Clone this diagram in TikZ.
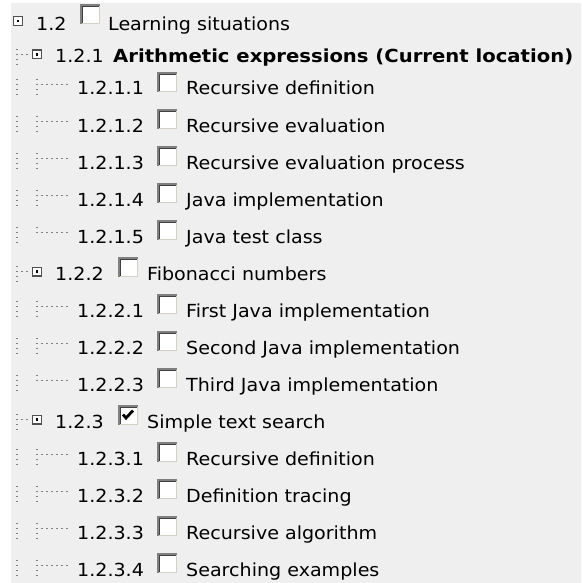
\documentclass[tikz,border=0pt]{standalone}
\usepackage{fontspec}
\usepackage{graphicx}
\setmainfont{DejaVu Sans}
\definecolor{panel}{HTML}{EFEFEF}
\definecolor{dotc}{HTML}{808080}
\definecolor{cbouter}{HTML}{808080}
\definecolor{cbinner}{HTML}{404040}
\definecolor{cblight}{HTML}{D4D0C8}
\definecolor{expc}{HTML}{505050}

% one tree-line dot, centred on (x,y)
\newcommand\tdot[2]{\fill[dotc] ({#1-0.9},{#2-0.9}) rectangle ({#1+0.9},{#2+0.9});}
% the tree font runs a little wider than DejaVu Sans
\newcommand\wide[1]{\scalebox{1.06}[1]{#1}}

\begin{document}
\begin{tikzpicture}[x=1pt,y=-1pt,
  txt/.style={anchor=base west, inner sep=0pt, font=\fontsize{18}{21}\selectfont},
  cbox/.pic={
    \fill[white] (-10,-10) rectangle (10,10);
    \draw[cblight, line width=1.4] (-9.3,9.3) -- (9.3,9.3) -- (9.3,-9.3);
    \draw[cbouter, line width=1.6] (-9.2,10) -- (-9.2,-9.2) -- (10,-9.2);
    \draw[cbinner, line width=1.4] (-7.7,8.6) -- (-7.7,-7.7) -- (8.6,-7.7);
  },
  tick/.pic={
    \draw[black, line width=2.8, line join=miter] (-5,-0.5) -- (-2,3) -- (5,-4.5);
  },
  expander/.pic={
    \fill[white] (-4.4,-4.4) rectangle (4.4,4.4);
    \draw[expc, line width=1.2] (-4.4,-4.4) rectangle (4.4,4.4);
    \fill[black] (-1.2,-1.2) rectangle (1.2,1.2);
  }]
\useasboundingbox (0,0) rectangle (581,583);
\fill[white] (0,0) rectangle (581,583);
\fill[panel] (11,3) rectangle (581,583);

% top level entry
\pic at (17.7,21) {expander};
\node[txt] (n12) at (36,30.5) {\wide{1.2}};
\pic at (90,14) {cbox};
\node[txt] (t12) at (108,30.5) {\wide{Learning situations}};

% second level entries: name / text centre / number / label / checked
\foreach \nm/\c/\num/\txt/\chk in {
    s1/56.5/1.2.1/{}/2,
    s2/273.5/1.2.2/Fibonacci numbers/0,
    s3/421.5/1.2.3/Simple text search/1}
{
  \foreach \dy in {-5,0,5,10} \tdot{16.7}{\c-2+\dy};
  \foreach \dx in {21.7,26.7} \tdot{\dx}{\c-2};
  \pic at (37,\c-2) {expander};
  \node[txt] (n-\nm) at (55,\c+6.5) {\wide{\num}};
  \ifnum\chk<2
    \pic at (128,\c-6.5) {cbox};
    \node[txt] (t-\nm) at (147,\c+6.5) {\wide{\txt}};
  \fi
  \ifnum\chk=1
    \pic at (128,\c-6.5) {tick};
  \fi
}
\node[txt] (t-s1) at (113,63) {\scalebox{1.09}[1]{\bfseries Arithmetic expressions (Current location)}};

% third level entries: name / text centre / number / label / last child
\foreach \nm/\c/\num/\txt/\last in {
    a1/88.5/1.2.1.1/Recursive definition/0,
    a2/125.5/1.2.1.2/Recursive evaluation/0,
    a3/162.5/1.2.1.3/Recursive evaluation process/0,
    a4/199.5/1.2.1.4/Java implementation/0,
    a5/236.5/1.2.1.5/Java test class/1,
    b1/310.5/1.2.2.1/First Java implementation/0,
    b2/347.5/1.2.2.2/Second Java implementation/0,
    b3/384.5/1.2.2.3/Third Java implementation/1,
    c1/458.5/1.2.3.1/Recursive definition/0,
    c2/495.5/1.2.3.2/Definition tracing/0,
    c3/532.5/1.2.3.3/Recursive algorithm/0,
    c4/569.5/1.2.3.4/Searching examples/0}
{
  \foreach \dy in {-5,0,5,10} \tdot{16.7}{\c-4+\dy};
  \ifnum\last=1
    \foreach \dy in {-5,0} \tdot{37.3}{\c-4+\dy};
  \else
    \foreach \dy in {-5,0,5,10} \tdot{37.3}{\c-4+\dy};
  \fi
  \foreach \dx in {42.3,47.3,52.3,57.3,62.3,67.3} \tdot{\dx}{\c-4};
  \node[txt] (n-\nm) at (77,\c+6.5) {\wide{\num}};
  \pic at (167,\c-6.5) {cbox};
  \node[txt] (t-\nm) at (186,\c+6.5) {\wide{\txt}};
}
\end{tikzpicture}
\end{document}
